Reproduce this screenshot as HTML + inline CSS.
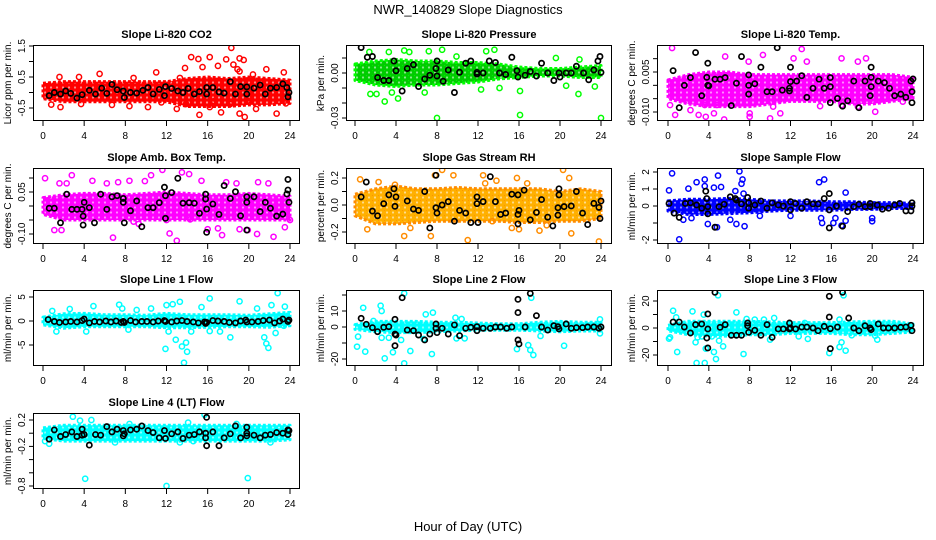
<!DOCTYPE html>
<html><head><meta charset="utf-8"><style>
html,body{margin:0;padding:0;background:#fff;}
svg{display:block;font-family:"Liberation Sans",Arial,sans-serif;}
</style></head><body>
<svg id="chart" width="936" height="540" viewBox="0 0 936 540" xmlns="http://www.w3.org/2000/svg">
<text x="468" y="14" text-anchor="middle" font-size="13">NWR_140829  Slope Diagnostics</text>
<text x="468" y="531" text-anchor="middle" font-size="13">Hour of Day (UTC)</text>
</svg>
<script>
const xTicks = [0,4,8,12,16,20,24];
const xTickLabels = ["0","4","8","12","16","20","24"];
const bandHours = [0,2,4,6,8,10,12,14,16,18,20,22,24];

// Panel 1 CO2
const co2BandHi = [0.3,0.35,0.35,0.35,0.35,0.35,0.35,0.45,0.5,0.45,0.5,0.45,0.4];
const co2BandLo = [-0.2,-0.3,-0.3,-0.3,-0.3,-0.3,-0.3,-0.45,-0.45,-0.45,-0.4,-0.4,-0.35];
const co2Out = [[14.4,1.14],[15.1,1.08],[16.2,1.14],[18.3,1.44],[17.8,1.07],[19.1,1.1],[19.5,1.05],[13.8,0.79],[15.5,0.82],[17,0.86],[18.5,0.9],[18.9,0.75],[21.7,0.75],[23.4,0.65],[11,0.65],[5.5,0.6],[3.5,0.5],[1.6,0.5],[0.8,-0.39],[1.7,-0.47],[3.7,-0.37],[6.7,-0.4],[8.4,-0.44],[10.2,-0.47],[13,-0.53],[15.2,-0.72],[16.2,-0.47],[17.3,-0.64],[19.1,-0.68],[19.6,-0.79],[20.7,-0.53],[22.7,-0.68],[23.6,-0.35],[11.5,-0.32],[13.9,-0.37],[16.6,-0.28],[18.2,-0.37],[19.9,-0.26],[8.8,0.47],[13.3,0.47],[20.4,0.58],[19.1,0.68]];
const co2Blk = [[0.6,-0.1],[1.1,0],[1.7,-0.05],[2.2,0.05],[2.7,-0.03],[3.3,-0.18],[3.8,-0.07],[4.5,0.07],[5.1,-0.05],[5.7,0.14],[6.2,-0.03],[6.7,0.26],[7.2,0.09],[7.8,0.05],[7.9,-0.16],[8.5,0],[9.1,-0.02],[9.7,0.07],[10.2,0.16],[10.7,-0.05],[11.3,0.1],[11.8,-0.1],[11.9,0.19],[12.5,0.13],[13.1,0.05],[13.6,0],[14.1,0.13],[14.7,-0.05],[15.2,0.03],[15.9,-0.05],[15.9,0.16],[16.5,0.16],[17.1,0.02],[17.6,-0.02],[18.2,0.35],[18.7,-0.05],[19.2,0.19],[19.8,0.18],[19.8,-0.05],[20.5,0.14],[21.1,0.24],[21.6,-0.05],[22.1,0.14],[22.7,0.16],[23.3,0.28],[23.7,0.16],[23.8,-0.14],[23.9,0]];

// Panel 2 Pressure
const presBandHi = [0.006,0.008,0.009,0.008,0.008,0.007,0.007,0.006,0.004,0.003,0.003,0.004,0.005];
const presBandLo = [-0.005,-0.008,-0.009,-0.008,-0.008,-0.007,-0.006,-0.004,-0.003,-0.002,-0.002,-0.003,-0.003];
const presOut = [[1.4,0.014],[3.3,0.014],[4.8,0.015],[5.3,0.014],[7.2,0.0145],[8.5,0.0155],[9.9,0.011],[12.8,0.0145],[13.6,0.0155],[19.6,0.01],[21.9,0.009],[2.9,-0.019],[4.2,-0.017],[8,-0.03],[16.1,-0.028],[24,-0.03],[21.8,-0.014],[2.1,-0.014],[6.8,-0.013],[14.1,-0.01],[16.1,-0.012],[20.6,-0.0085],[23.4,-0.009],[3.6,-0.013],[1.5,-0.014],[12.3,-0.011]];
const presBlk = [[0.6,0.017],[1.2,0.0105],[1.7,0.011],[2.2,-0.003],[2.8,-0.005],[3.3,-0.005],[3.8,0.008],[4,0.0015],[4.6,-0.012],[5.1,0.003],[5.7,0.0055],[6.2,-0.009],[6.8,-0.004],[7.3,-0.0015],[8,0.008],[7.9,0.003],[8,-0.002],[8.6,-0.0055],[9.1,0.002],[9.7,-0.013],[10.2,0.0005],[10.8,0.0065],[11.3,0.008],[11.9,-0.0007],[11.9,0.0004],[12.5,0],[13.1,0.008],[13.7,0.007],[14.1,0],[14.7,-0.001],[15.3,0.0105],[15.8,0.0015],[15.9,-0.0027],[16.6,-0.0015],[17.1,0.001],[17.7,-0.002],[18.2,0.0065],[18.8,0],[19.4,-0.005],[19.9,0],[20,-0.0027],[20.6,0],[21.1,0],[21.6,0.0045],[22.3,0],[22.8,-0.0045],[23.3,0.002],[23.7,0.008],[23.9,0.011],[24,0.0004]];

// Panel 3 Li-820 Temp
const ltBandHi = [0.002,0.004,0.005,0.005,0.004,0.004,0.004,0.004,0.004,0.004,0.004,0.004,0.003];
const ltBandLo = [-0.005,-0.007,-0.008,-0.008,-0.008,-0.007,-0.006,-0.006,-0.006,-0.007,-0.007,-0.006,-0.005];
const ltOut = [[0.4,0.014],[13.1,0.0136],[10,-0.0124],[5.5,-0.0128],[0.7,-0.0111],[3,-0.0111],[3.7,-0.0118],[4.5,-0.0105],[8,-0.0105],[8,-0.0118],[11,-0.0105],[20.3,-0.0099],[5.6,0.0108],[7.9,0.0089],[9.3,0.0114],[12.3,0.0101],[13.6,0.0089],[17,0.0101],[18.6,0.0089],[19.4,0.0101],[0.2,-0.0074],[2.2,-0.0093],[3.6,-0.0074],[14.9,-0.0078],[17,-0.0074],[18.6,-0.008],[23,-0.0061],[4.8,-0.0074],[10.3,-0.008]];
const ltBlk = [[0.5,0.0055],[1.1,-0.0084],[1.6,0],[2.2,0.0029],[2.7,0.0123],[3.3,-0.0039],[3.8,0.003],[3.9,0.0083],[3.9,0],[4,-0.0002],[4.6,0.0023],[5.1,0.0023],[5.6,0.0029],[6.2,-0.0076],[6.7,0.0008],[7.2,0.0108],[7.9,0.0039],[7.9,0],[7.9,-0.0033],[8.5,0.0006],[9.1,0.0068],[9.7,-0.0024],[10.2,-0.0024],[10.7,0.0141],[11.2,-0.0018],[11.9,-0.0011],[11.9,-0.0021],[12,0.0068],[12,0.0014],[12.6,0.0016],[13.1,0.0036],[13.6,-0.0045],[14.2,-0.0011],[14.8,0.0023],[15.3,-0.0011],[15.9,0.0029],[15.9,-0.0005],[15.9,-0.0065],[16.6,-0.0049],[17.1,-0.0078],[17.6,-0.0058],[18.2,0.0016],[18.7,-0.0084],[19.3,0.0016],[19.8,-0.0039],[19.9,-0.0005],[19.9,0.003],[19.9,0.0068],[20.6,0.0016],[21.2,0.001],[21.7,-0.0011],[22.2,-0.0039],[22.8,-0.0033],[23.3,-0.0045],[23.8,0.0016],[23.9,-0.0065],[23.9,-0.0024],[24,0.0024]];

// Panel 4 Amb Box Temp
const abBandHi = [0.03,0.04,0.045,0.045,0.04,0.045,0.05,0.045,0.04,0.04,0.045,0.04,0.035];
const abBandLo = [-0.03,-0.05,-0.05,-0.05,-0.05,-0.05,-0.05,-0.05,-0.05,-0.05,-0.05,-0.05,-0.05];
const abOut = [[0.2,0.099],[1.1,-0.086],[1.8,-0.086],[2.8,0.11],[4.8,0.09],[6.8,-0.113],[8.4,0.09],[9.9,0.089],[10.5,0.11],[11.6,0.129],[12.3,-0.098],[13,-0.124],[13.5,0.12],[14.2,0.114],[15.4,0.09],[16,-0.083],[17,-0.08],[17.4,-0.104],[19.1,-0.083],[19.9,-0.086],[20.8,-0.1],[20.9,0.085],[21.9,0.081],[22.4,-0.11],[23.5,-0.076],[24,-0.05],[1.6,0.081],[2.3,0.081],[6.2,0.081],[7.3,0.085],[17.8,0.085],[18.8,0.081],[12,-0.05],[14.3,-0.048],[8.8,-0.056],[9.3,-0.064]];
const abBlk = [[0.6,-0.008],[1.1,-0.008],[1.7,-0.06],[2.3,0.042],[2.8,-0.012],[3.3,-0.012],[3.8,-0.012],[3.9,-0.036],[3.9,-0.068],[4,0.013],[4.5,-0.006],[5,-0.06],[5.6,0.042],[6.2,-0.012],[6.7,0.033],[7.2,0.037],[7.8,0.027],[7.8,0.013],[7.9,-0.06],[8.5,-0.017],[9.1,0.018],[9.6,-0.074],[10.2,-0.006],[10.7,-0.006],[11.3,0.012],[11.8,0.067],[11.9,0.037],[11.9,-0.044],[12.5,0.048],[13.1,0.099],[13.6,0.01],[14.2,0.012],[14.7,0.01],[15.2,-0.026],[15.8,0.042],[15.8,0.025],[15.9,-0.011],[15.9,-0.094],[16.5,0.007],[17.1,-0.03],[17.6,0.073],[18.2,0.027],[18.7,0.051],[19.2,-0.035],[19.8,0.033],[19.8,0.013],[19.8,-0.086],[20.5,0.033],[21.1,-0.02],[21.6,0.013],[22.1,-0.008],[22.7,-0.036],[23.3,-0.029],[23.7,0.043],[23.8,0.057],[23.8,0.095],[23.9,0.013]];

// Panel 5 Gas Stream RH
const rhBandHi = [0.08,0.12,0.14,0.12,0.12,0.13,0.12,0.12,0.12,0.12,0.1,0.12,0.1];
const rhBandLo = [-0.08,-0.14,-0.14,-0.13,-0.12,-0.12,-0.12,-0.12,-0.13,-0.13,-0.12,-0.12,-0.1];
const rhOut = [[0.5,0.19],[1.2,-0.18],[4.8,-0.23],[5.4,-0.17],[7.4,-0.23],[7.8,0.22],[8.5,0.26],[9.6,0.22],[11,-0.26],[12.5,0.22],[12.7,0.16],[13.8,0.18],[13.4,-0.12],[15.3,-0.17],[15.8,0.2],[16,-0.18],[18,-0.19],[20.3,0.26],[20.9,0.2],[21.1,-0.21],[23.8,-0.27],[3.9,0.15],[2.3,0.17],[18.7,-0.15],[16.8,0.16]];
const rhBlk = [[0.6,0.06],[1.1,0.17],[1.7,-0.045],[2.2,-0.08],[2.8,0.01],[3.3,0.075],[3.8,0.12],[3.9,-0.01],[4,0.06],[5.1,0.03],[5.7,-0.03],[6.2,-0.04],[6.8,0.1],[7.3,-0.17],[7.9,0.22],[7.9,-0.02],[8,-0.06],[8.5,0],[9.1,0.025],[9.7,-0.12],[10.2,-0.04],[10.8,-0.06],[11.3,-0.13],[11.9,0.06],[11.9,0.01],[12,-0.13],[12.5,0.025],[13.2,0.21],[13.7,0.025],[14.2,-0.07],[14.7,-0.06],[15.3,0.08],[15.9,0.075],[15.9,-0.07],[15.9,-0.14],[16,-0.04],[16.5,0.11],[17.1,-0.11],[17.7,-0.055],[18.2,0.04],[18.8,-0.09],[19.3,-0.155],[19.9,0.075],[19.9,0.12],[19.8,-0.075],[19.8,-0.02],[20.4,-0.012],[21.1,-0.007],[21.6,0.1],[22.2,-0.06],[22.7,-0.145],[23.3,0.012],[23.8,-0.018],[23.9,-0.1],[24,0.03]];

// Panel 6 Sample Flow
const sfBandHi = [0.3,0.4,0.4,0.45,0.4,0.3,0.3,0.3,0.25,0.25,0.2,0.2,0.15];
const sfBandLo = [-0.3,-0.5,-0.5,-0.45,-0.4,-0.3,-0.25,-0.25,-0.25,-0.2,-0.2,-0.15,-0.15];
const sfOut = [[0.4,1.92],[0.1,0.92],[2.8,1.4],[2,1.02],[3.6,1.56],[3.6,1.17],[4.5,1.08],[4.9,1.79],[5.2,1.12],[7,2.04],[7.3,1.56],[7.2,1.31],[6.6,0.88],[7.4,0.73],[14.8,1.4],[15.3,1.56],[17.4,0.79],[1.1,-1.96],[3.9,-1.06],[4.8,-1.25],[7.5,-1.19],[6.1,-0.81],[6.7,-1.06],[15.1,-1],[16.2,-1],[17,-1.15],[20,-0.71],[20,-0.9],[15,-0.71],[1.5,-0.81],[2.3,-0.71],[16.4,-0.71],[17.4,-0.87],[9,-0.58],[12,-0.58]];
const sfBlk = [[0.1,0.15],[0.6,-0.42],[1.1,-0.67],[1.7,0.15],[2.2,0.19],[2.8,0.06],[3.3,-0.13],[3.7,0.87],[3.8,0.44],[3.9,-0.04],[3.9,-0.46],[4.6,-1.25],[5,-0.04],[5.5,0.1],[6.1,0.54],[6.6,0.44],[6.7,0.35],[7.2,0.12],[7.8,0.5],[7.9,0.19],[7.9,-0.13],[8.5,0.06],[9.1,0.29],[9.7,-0.13],[10.2,0.19],[10.8,0.06],[11.3,0],[12,0.25],[12,-0.23],[12.5,0.15],[13.1,-0.13],[13.6,0.25],[14.2,0.12],[14.7,0.12],[15.3,0.44],[15.8,0.73],[15.8,-0.23],[15.8,-1.29],[16.5,0],[17.1,-1.19],[17.6,-0.33],[18.2,-0.04],[18.7,0.1],[19.3,-0.04],[19.8,0.15],[19.8,-0.04],[20.5,0.06],[21,-0.19],[21.6,-0.13],[22.2,0.06],[22.7,0.15],[23.3,-0.29],[23.8,-0.29],[23.9,0.19],[23.9,0]];

// Panel 7 Line 1 Flow
const l1BandHi = [0.8,1.5,1.6,1.3,1.3,1.2,1.6,1.3,1.3,1.3,1.2,1.5,1.8];
const l1BandLo = [-0.8,-1.5,-1.2,-1.2,-1.2,-1.2,-1.4,-1.4,-1.3,-1.2,-1.2,-1.3,-1];
const l1Out = [[0.9,2.1],[2.6,2.5],[4.9,3.1],[7.4,3.4],[7.7,2.6],[9.1,2.3],[10.5,2.6],[12,3.3],[12.6,3.5],[13.3,4],[15.4,2.9],[16.2,4.7],[19.1,4.1],[20.8,2.6],[22.2,3.3],[22.8,5.8],[23.5,3],[1.3,-2.2],[4.2,-2.2],[8.3,-1.8],[11.9,-5.8],[12.9,-3.9],[13.5,-5.3],[13.9,-4.5],[14,-6.4],[13.7,-8.7],[14.4,-2.2],[16.2,-2.1],[17.2,-2.2],[18.2,-3.4],[21.5,-3.4],[21.7,-4.7],[21.9,-5.6],[22.6,-2.5],[23.4,-1],[12.2,-2.2]];
const l1Blk = [[0.5,0.3],[1.1,-0.1],[1.6,-0.3],[2.2,-0.2],[2.7,-0.1],[3.3,-0.2],[3.8,0.1],[4,0.4],[4.5,-0.4],[5,-0.1],[5.5,-0.2],[6.1,0],[6.6,-0.2],[7.1,0],[7.6,-0.3],[7.8,-0.1],[7.9,-0.3],[8.5,0.1],[9,-0.2],[9.6,-0.1],[10.1,-0.1],[10.7,-0.2],[11.2,0],[11.8,0.1],[11.9,-0.1],[12.5,-0.2],[13,0],[13.5,0.1],[14,-0.1],[14.6,-0.2],[15.1,-0.4],[15.7,-0.2],[15.8,-0.5],[15.9,-0.3],[16.5,0.1],[17,0],[17.6,-0.1],[18.1,-0.3],[18.7,-0.4],[19.2,0],[19.7,0.2],[19.8,-0.2],[20.3,-0.2],[20.9,-0.1],[21.4,0.1],[22,0.2],[22.5,-0.4],[23,0],[23.3,0.4],[23.8,-0.1],[23.9,0.2]];

// Panel 8 Line 2 Flow
const l2BandHi = [1.5,3.5,3.5,3.5,3,3,2.5,2,2,3,3.5,3,3];
const l2BandLo = [-1.5,-3,-3.5,-3.5,-3,-2.5,-2,-2,-2,-2.5,-3,-2.5,-2.5];
const l2Out = [[0.8,12],[2.5,13.3],[2.6,10],[4.8,21],[7.6,9],[6.9,7.9],[9.8,5.8],[10.4,5],[17.2,18.3],[1.8,3.75],[0.2,-12.3],[0.3,-6],[1,-15.4],[2.9,-19.6],[2.6,-6.7],[3.3,-6.7],[3.7,-15.8],[4.5,-8.1],[4.8,-22.7],[5.4,-15],[7.5,-16.9],[6.7,-7.5],[10.7,-7.1],[9.9,-7.1],[15.8,-13.8],[16.9,-11.3],[17.1,-14.4],[17.4,-17.5],[18.1,-5.6],[20.4,-11.7],[23.9,-4],[23.9,4.8]];
const l2Blk = [[0.6,5.4],[1.1,1.7],[1.7,-0.4],[2.2,-2.9],[2.8,-0.2],[3.3,0.2],[3.9,4.8],[3.9,-4.4],[3.9,-11.7],[4,-5],[4.6,18.3],[5.1,-1.9],[5.7,-2.3],[6.2,-5],[6.8,-8.1],[7.3,-4.4],[7.9,1.9],[7.9,-0.8],[8,-3.5],[8.5,-0.8],[9.1,-4.4],[9.7,1.3],[10.2,-5.4],[10.8,-0.8],[11.3,-0.2],[11.9,0.2],[11.9,-2.3],[12.5,-0.8],[13.2,-0.8],[13.7,0],[14.2,0],[14.8,-0.8],[15.3,0],[15.9,17.3],[15.9,9],[15.9,-8.1],[16,-10.6],[16.6,0],[17.1,21],[17.7,7.1],[18.2,0],[18.8,-1.9],[19.4,0.8],[19.8,0.2],[19.9,-1.2],[20.6,1.9],[21.1,-0.8],[21.6,-0.4],[22.2,-0.4],[22.7,0],[23.3,0],[23.8,-0.8],[24,0]];

// Panel 9 Line 3 Flow
const l3BandHi = [2,5,5,5,5,4.5,4,4,4,4.5,5,5,3];
const l3BandLo = [-2,-5,-6,-6,-5,-5,-4,-4,-4,-5,-5,-4,-3];
const l3Out = [[0.5,12.8],[0.8,7.9],[2.4,12.3],[3.5,9.9],[3.1,-0.5],[6.7,11.6],[7.7,6.7],[8.5,6.2],[9.4,6.2],[10.4,7.4],[13.4,3.7],[16.8,6.2],[17.2,24.2],[4.9,24.2],[0.1,-7.9],[0.2,-6.9],[0.9,-17.8],[2.7,-10.6],[2.8,-25.9],[2.9,-6.9],[3.3,-6.2],[3.6,-25.9],[3.7,-15.3],[4.3,-6.2],[4.5,-17.8],[4.7,-23],[5,-9.4],[5.4,-13.6],[7.4,-19.3],[10,-8.6],[12.8,-6.2],[13.7,-8.1],[15.8,-18.5],[16.8,-14.1],[17,-10.6],[17.4,-16.8],[18,-5.4],[20.3,-5.7],[20.5,-8.6]];
const l3Blk = [[0.5,4.4],[1.1,4.4],[1.6,0.7],[2.2,-3.7],[2.7,2.5],[3.3,3],[3.9,10.4],[3.9,-0.7],[3.8,-7.4],[3.9,-14.8],[4.6,26.4],[5.1,0.5],[5.6,2.5],[6.2,-5.4],[6.7,-5.4],[7.2,-5.4],[7.8,1.7],[7.8,3.7],[7.9,-3.2],[8.5,-1.7],[9.1,-5.4],[9.7,2.5],[10.2,-6.9],[10.8,-0.7],[11.3,-0.7],[11.9,3.7],[11.9,-0.7],[12,0],[12.5,-0.7],[13.1,0.7],[13.6,0.7],[14.2,0],[14.7,-2],[15.3,1.2],[15.8,23.5],[15.8,8.1],[15.9,-0.5],[15.9,-15.3],[16.6,0.7],[17.1,26.4],[17.7,7.4],[18.2,0],[18.7,-2],[19.3,1.7],[19.8,0],[19.9,-1.2],[20.6,3],[21.1,0],[21.6,0],[22.2,0],[22.8,0.5],[23.3,0.7],[23.8,2],[23.9,-2]];

// Panel 10 Line 4 (LT) Flow
const l4BandHi = [0.08,0.12,0.12,0.12,0.12,0.12,0.12,0.12,0.12,0.12,0.12,0.12,0.12];
const l4BandLo = [-0.08,-0.12,-0.12,-0.12,-0.12,-0.12,-0.12,-0.12,-0.12,-0.12,-0.12,-0.12,-0.1];
const l4Out = [[2.9,0.25],[3.6,0.19],[4.7,0.2],[15.7,0.28],[4.1,-0.69],[12,-0.8],[19.9,-0.68],[0.2,-0.12],[0.6,-0.16],[7,-0.14],[13.3,-0.14],[22.1,-0.14],[8.4,0.14],[14.1,0.16],[14.6,-0.12],[18.8,0.14]];
const l4Blk = [[0.6,-0.09],[1.1,0.05],[1.7,-0.05],[2.2,-0.02],[2.8,0.02],[3.3,-0.05],[3.8,0.06],[3.8,-0.03],[4,-0.02],[4.5,-0.18],[5.1,-0.02],[5.6,-0.03],[6.2,0.1],[6.7,0.02],[7.2,0.06],[7.8,0.04],[7.8,-0.04],[7.9,-0.01],[8.5,0.05],[9.1,0.06],[9.6,0.11],[10.2,0.04],[10.7,0.01],[11.3,-0.07],[11.8,0.04],[11.9,-0.08],[12.5,-0.01],[13.1,0.02],[13.6,-0.08],[14.2,-0.03],[14.7,-0.02],[15.2,0.02],[15.8,0],[15.8,-0.07],[15.9,-0.19],[15.9,0.24],[16.5,0.02],[17.1,-0.19],[17.6,-0.07],[18.2,-0.01],[18.7,0.11],[19.2,-0.07],[19.8,0],[19.8,0.09],[19.8,-0.04],[20.5,-0.03],[21.1,-0.07],[21.6,-0.03],[22.1,-0.02],[22.7,0.01],[23.3,0],[23.8,-0.02],[23.8,0.05],[23.9,0.04]];

const panels = [
 {name:"co2",title:"Slope Li-820 CO2",ylab:"Licor ppm per min.",col:0,row:0,v1:1.5,p1:46,v2:-0.5,p2:108,ticks:[1.5,1,0.5,0,-0.5],labs:["1.5","","0.5","","-0.5"],color:"#ff0000",color2:"#ff0000",hi:co2BandHi,lo:co2BandLo,out:co2Out,blk:co2Blk},
 {name:"pressure",title:"Slope Li-820 Pressure",ylab:"kPa per min.",col:1,row:0,v1:0,p1:73,v2:-0.03,p2:118,ticks:[0.01,0,-0.01,-0.02,-0.03],labs:["","0.00","","","-0.03"],color:"#00ff00",color2:"#00cc00",hi:presBandHi,lo:presBandLo,out:presOut,blk:presBlk},
 {name:"licor-temp",title:"Slope Li-820 Temp.",ylab:"degrees C per min.",col:2,row:0,v1:0.005,p1:72,v2:-0.01,p2:112,ticks:[0.01,0.005,0,-0.005,-0.01],labs:["","0.005","","","-0.010"],color:"#ff00ff",color2:"#ff00ff",hi:ltBandHi,lo:ltBandLo,out:ltOut,blk:ltBlk},
 {name:"amb-box-temp",title:"Slope Amb. Box Temp.",ylab:"degrees C per min.",col:0,row:1,v1:0.05,p1:192,v2:-0.1,p2:234,ticks:[0.1,0.05,0,-0.05,-0.1],labs:["","0.05","","","-0.10"],color:"#ff00ff",color2:"#ff00ff",hi:abBandHi,lo:abBandLo,out:abOut,blk:abBlk},
 {name:"gas-stream-rh",title:"Slope Gas Stream RH",ylab:"percent per min.",col:1,row:1,v1:0.2,p1:178,v2:-0.2,p2:232,ticks:[0.2,0.1,0,-0.1,-0.2],labs:["0.2","","0.0","","-0.2"],color:"#ff8c00",color2:"#ffb000",hi:rhBandHi,lo:rhBandLo,out:rhOut,blk:rhBlk},
 {name:"sample-flow",title:"Slope Sample Flow",ylab:"ml/min per min.",col:2,row:1,v1:2,p1:172,v2:-2,p2:240,ticks:[2,1,0,-1,-2],labs:["2","1","0","","-2"],color:"#0000ff",color2:"#0000ff",hi:sfBandHi,lo:sfBandLo,out:sfOut,blk:sfBlk},
 {name:"line1-flow",title:"Slope Line 1 Flow",ylab:"ml/min per min.",col:0,row:2,v1:5,p1:297,v2:-5,p2:345,ticks:[5,0,-5],labs:["5","0","-5"],color:"#00ffff",color2:"#00ffff",hi:l1BandHi,lo:l1BandLo,out:l1Out,blk:l1Blk},
 {name:"line2-flow",title:"Slope Line 2 Flow",ylab:"ml/min per min.",col:1,row:2,v1:10,p1:311,v2:-20,p2:359,ticks:[20,10,0,-10,-20],labs:["","10","0","","-20"],color:"#00ffff",color2:"#00ffff",hi:l2BandHi,lo:l2BandLo,out:l2Out,blk:l2Blk},
 {name:"line3-flow",title:"Slope Line 3 Flow",ylab:"ml/min per min.",col:2,row:2,v1:20,p1:301,v2:-20,p2:355,ticks:[20,10,0,-10,-20],labs:["20","","0","","-20"],color:"#00ffff",color2:"#00ffff",hi:l3BandHi,lo:l3BandLo,out:l3Out,blk:l3Blk},
 {name:"line4-flow",title:"Slope Line 4 (LT) Flow",ylab:"ml/min per min.",col:0,row:3,v1:0.2,p1:420,v2:-0.8,p2:486,ticks:[0.2,0,-0.2,-0.4,-0.6,-0.8],labs:["0.2","","-0.2","","","-0.8"],color:"#00ffff",color2:"#00ffff",hi:l4BandHi,lo:l4BandLo,out:l4Out,blk:l4Blk}
];

const boxL=[33,346,657], boxR=[300,612,924], x0s=[43,355,668], x24s=[290,601,913];
const boxT=[45,168,290,413], boxB=[121,244,366,489];
const NS="http://www.w3.org/2000/svg";
const svg=document.getElementById("chart");
function mk(tag,attrs,parent){const e=document.createElementNS(NS,tag);for(const k in attrs)e.setAttribute(k,attrs[k]);(parent||svg).appendChild(e);return e;}
const defs=mk("defs",{});

panels.forEach(p=>{
  const L=boxL[p.col],R=boxR[p.col],T=boxT[p.row],B=boxB[p.row];
  const xs=h=>x0s[p.col]+(h/24)*(x24s[p.col]-x0s[p.col]);
  const ys=v=>p.p1+(v-p.v1)*(p.p2-p.p1)/(p.v2-p.v1);
  const g=mk("g",{});
  
  
  const clipId="clip-"+p.name;
  const cp=mk("clipPath",{id:clipId},defs); mk("rect",{x:L,y:T,width:R-L,height:B-T},cp);
  const patId="pat-"+p.name;
  const pat=mk("pattern",{id:patId,x:0,y:0,width:6,height:5,patternUnits:"userSpaceOnUse"},defs);
  mk("rect",{x:0,y:0,width:6,height:5,fill:p.color2},pat);
  mk("circle",{cx:3,cy:2.5,r:1.1,fill:"#ffffff","fill-opacity":0.55},pat);
  mk("circle",{cx:0,cy:0,r:1,fill:p.color},pat);
  const plot=mk("g",{"clip-path":"url(#"+clipId+")"},g);
  
  
  let pts=bandHours.map((h,i)=>xs(h)+","+ys(p.hi[i]));
  for(let i=bandHours.length-1;i>=0;i--) pts.push(xs(bandHours[i])+","+ys(p.lo[i]));
  const band=mk("polygon",{points:pts.join(" "),fill:"url(#"+patId+")",stroke:p.color,"stroke-width":3,"stroke-linejoin":"round","stroke-dasharray":"3 2"},plot);
  
  
  p.out.forEach(d=>{
    const c=mk("circle",{cx:xs(d[0]),cy:ys(d[1]),r:2.6,fill:"none",stroke:p.color,"stroke-width":1.5},plot);
    
    
  });
  p.blk.forEach(d=>{
    const c=mk("circle",{cx:xs(d[0]),cy:ys(d[1]),r:2.6,fill:"none",stroke:"#000","stroke-width":1.7},plot);
    
    
  });
  const box=mk("rect",{x:L+0.5,y:T+0.5,width:R-L-1,height:B-T-1,fill:"none",stroke:"#000","stroke-width":1},g);
  
  
  const t=mk("text",{x:(L+R)/2,y:T-7,"text-anchor":"middle","font-size":11,"font-weight":"bold"},g);
  t.textContent=p.title;
  
  
  xTicks.forEach((h,i)=>{
    mk("line",{x1:xs(h),x2:xs(h),y1:B,y2:B+5,stroke:"#000"},g);
    const tl=mk("text",{x:xs(h),y:B+18,"text-anchor":"middle","font-size":10},g);
    tl.textContent=xTickLabels[i];
    
    
  });
  const yt=p.ticks.map(ys);
  mk("line",{x1:L+0.5,x2:L+0.5,y1:Math.max(Math.min(...yt),T),y2:Math.min(Math.max(...yt),B),stroke:"#000"},g);
  p.ticks.forEach((v,i)=>{
    const y=ys(v); if(y<T-1||y>B+1) return;
    mk("line",{x1:L-4,x2:L,y1:y,y2:y,stroke:"#000"},g);
    if(p.labs[i]){
      const yl=mk("text",{x:L-8,y:y,"text-anchor":"middle","font-size":10,transform:"rotate(-90 "+(L-8)+" "+y+")"},g);
      yl.textContent=p.labs[i];
      
      
    }
  });
  const cy=(T+B)/2, ax=L-22;
  const ylab=mk("text",{x:ax,y:cy,"text-anchor":"middle","font-size":10,transform:"rotate(-90 "+ax+" "+cy+")"},g);
  ylab.textContent=p.ylab;
  
  
});
</script>
</body></html>
